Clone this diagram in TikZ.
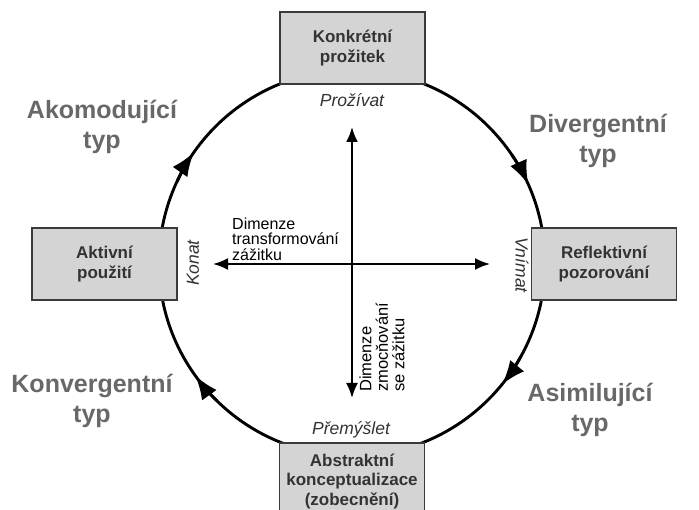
\documentclass[tikz,border=0pt]{standalone}
\usepackage{fontspec}
\setmainfont{Liberation Sans}
\usetikzlibrary{arrows.meta}
\definecolor{boxfill}{HTML}{D4D4D4}
\definecolor{boxline}{HTML}{3A3A3A}
\definecolor{boxtext}{HTML}{333333}
\definecolor{typetext}{HTML}{686868}
\tikzset{
  stagebox/.style={draw=boxline, line width=1.1pt, fill=boxfill, minimum width=145pt, minimum height=72pt, align=center, font=\bfseries\fontsize{17}{19.5}\selectfont, text=boxtext, inner sep=0pt},
  typelabel/.style={align=center, font=\bfseries\fontsize{25}{30}\selectfont, text=typetext, inner sep=0pt},
  modelabel/.style={font=\itshape\fontsize{17.5}{19}\selectfont, text=boxtext, inner sep=0pt},
  dimlabel/.style={align=left, font=\fontsize{16}{15.5}\selectfont, text=black, inner sep=0pt},
  cyclearc/.style={line width=2.9pt},
  cyclehead/.style={line width=2.9pt, -{Latex[length=24pt,width=18pt]}},
  axis/.style={line width=2pt, {Latex[length=15pt,width=12pt]}-{Latex[length=15pt,width=12pt]}}
}
\begin{document}
\begin{tikzpicture}[x=1pt,y=1pt]
\useasboundingbox (0,0) rectangle (699,-510);
\coordinate (c) at (352,-263);
% cycle
\draw[cyclearc] (c) circle[radius=193];
\foreach \a in {145,24,-39,215.7}{
  \draw[cyclehead] ([shift={(\a+10:193)}]c) arc[start angle=\a+10, end angle=\a, radius=193];
}
% stage boxes
\node[stagebox] (konk) at (352.5,-48) {Konkrétní\\prožitek};
\node[stagebox] (aktiv) at (104.5,-264) {Aktivní\\použití};
\node[stagebox] (refl) at (604,-264) {Reflektivní\\pozorování};
\node[stagebox, minimum height=77pt] (abstr) at (352,-481.5) {Abstraktní\\konceptualizace\\(zobecnění)};
% axes
\coordinate (vtop) at (352,-127);
\coordinate (vbot) at (352,-398);
\coordinate (hleft) at (213,-264);
\coordinate (hright) at (490,-264);
\draw[axis] (vtop) -- (vbot);
\draw[axis] (hleft) -- (hright);
% mode labels
\node[modelabel] (proz) at (352,-100) {Prožívat};
\node[modelabel] (prem) at (351,-430) {Přemýšlet};
\node[modelabel, rotate=90] (konat) at (193,-263) {Konat};
\node[modelabel, rotate=-90] (vnim) at (522,-265) {Vnímat};
% dimension labels
\node[dimlabel, anchor=west] (dimt) at (232,-239) {Dimenze\\transformování\\zážitku};
\node[dimlabel, font=\fontsize{16.5}{16.5}\selectfont, rotate=90, anchor=west] (dimz) at (382,-392) {Dimenze\\zmocňování\\se zážitku};
% type labels
\node[typelabel] (ako) at (102,-127) {Akomodující\\typ};
\node[typelabel] (div) at (598,-141) {Divergentní\\typ};
\node[typelabel] (konv) at (92,-401) {Konvergentní\\typ};
\node[typelabel] (asim) at (590,-410) {Asimilující\\typ};
\end{tikzpicture}
\end{document}
